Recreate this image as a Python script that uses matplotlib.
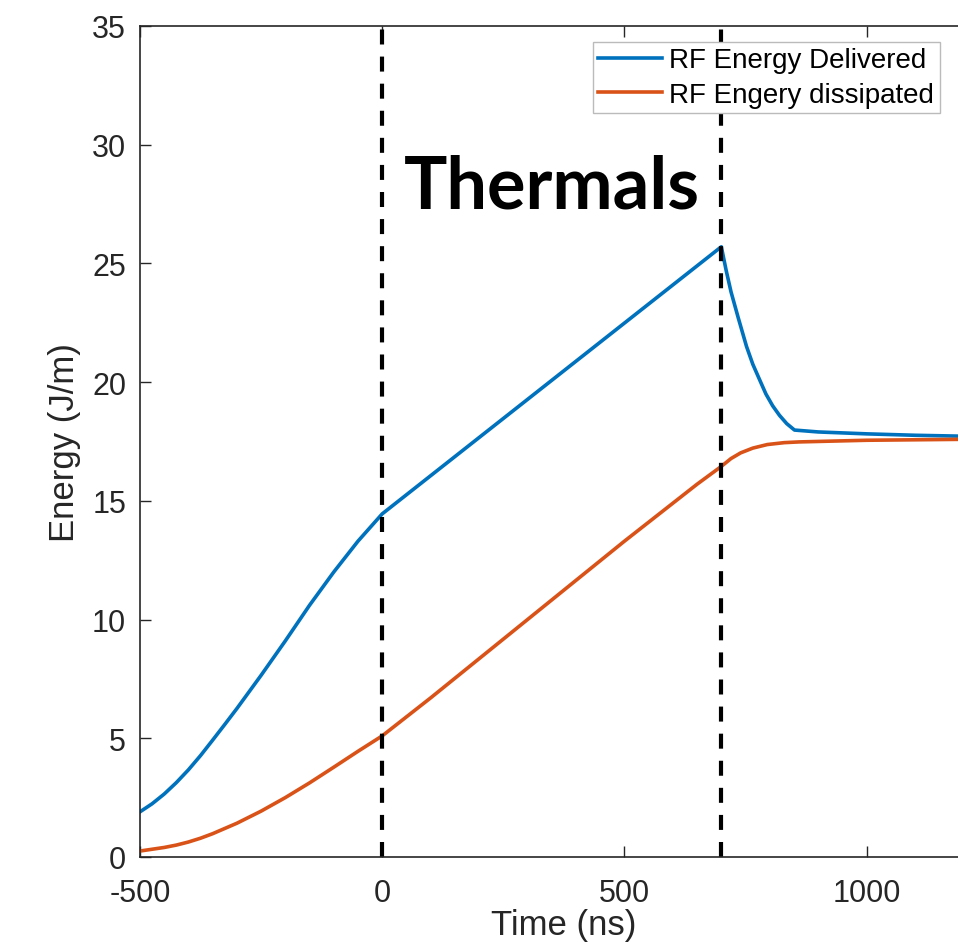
import matplotlib.pyplot as plt
import numpy as np

# RF energy delivered (blue)
t_del = [-500, -475, -450, -425, -400, -375, -350, -325, -300, -250, -200, -150, -100, -50, 0,
         700, 710, 720, 735, 752, 765, 779, 792, 806, 820, 835, 851, 900, 1000, 1100, 1250]
e_del = [1.9, 2.24, 2.65, 3.13, 3.67, 4.27, 4.92, 5.58, 6.25, 7.65, 9.1, 10.6, 12.0, 13.3, 14.45,
         25.7, 24.7, 23.8, 22.7, 21.5, 20.75, 20.1, 19.5, 19.0, 18.6, 18.25, 17.98, 17.9, 17.82, 17.76, 17.7]

# RF energy dissipated (orange)
t_dis = [-500, -450, -425, -400, -375, -350, -300, -250, -200, -150, -100, -50, 0,
         100, 200, 300, 400, 500, 600, 650, 700, 720, 740, 765, 795, 830, 860, 1000, 1250]
e_dis = [0.25, 0.4, 0.5, 0.63, 0.79, 0.98, 1.42, 1.93, 2.5, 3.12, 3.78, 4.45, 5.1,
         6.7, 8.35, 10.0, 11.65, 13.3, 14.9, 15.7, 16.45, 16.78, 17.02, 17.22, 17.37, 17.45, 17.48, 17.55, 17.6]

marks = [0, 700]
xticks = [-500, 0, 500, 1000]
yticks = [0, 5, 10, 15, 20, 25, 30, 35]

plt.rcParams['font.family'] = ['Liberation Sans', 'DejaVu Sans']
plt.rcParams['axes.unicode_minus'] = False
fig = plt.figure(figsize=(9.58, 9.45), dpi=100)
ax = fig.add_axes([0.1461, 0.0921, 0.885, 0.8794])

ax.plot(t_del, e_del, color='#0072BD', lw=2.6, label='RF Energy Delivered')
ax.plot(t_dis, e_dis, color='#D95319', lw=2.6, label='RF Engery dissipated')
for m in marks:
    ax.plot([m, m], [0, 35], color='black', lw=3, dashes=(3.6, 2.9))

ax.text(350, 28.2, 'Thermals', fontsize=52, fontweight='bold', family='Lato',
        ha='center', va='center')

ax.set_xlim(-500, 1250)
ax.set_ylim(0, 35)
ax.set_xticks(xticks)
ax.set_yticks(yticks)
ax.tick_params(direction='in', length=8, width=1, top=True, right=True,
               labelsize=22, colors='#262626')
ax.tick_params(axis='x', pad=15)
ax.tick_params(axis='y', pad=10)
for s in ax.spines.values():
    s.set_color('#262626')
    s.set_linewidth(1.2)
ax.set_xlabel('Time (ns)', fontsize=25, color='#262626', labelpad=0)
ax.set_ylabel('Energy (J/m)', fontsize=25, color='#262626', labelpad=8)

leg = ax.legend(loc='upper left', bbox_to_anchor=(0.534, 0.981), fontsize=20,
                fancybox=False, framealpha=1, edgecolor='#bbbbbb',
                handlelength=2.3, handletextpad=0.25, borderpad=0.2,
                labelspacing=0.3, borderaxespad=0)
leg.get_frame().set_linewidth(1)

fig.savefig('out.png', dpi=100)
